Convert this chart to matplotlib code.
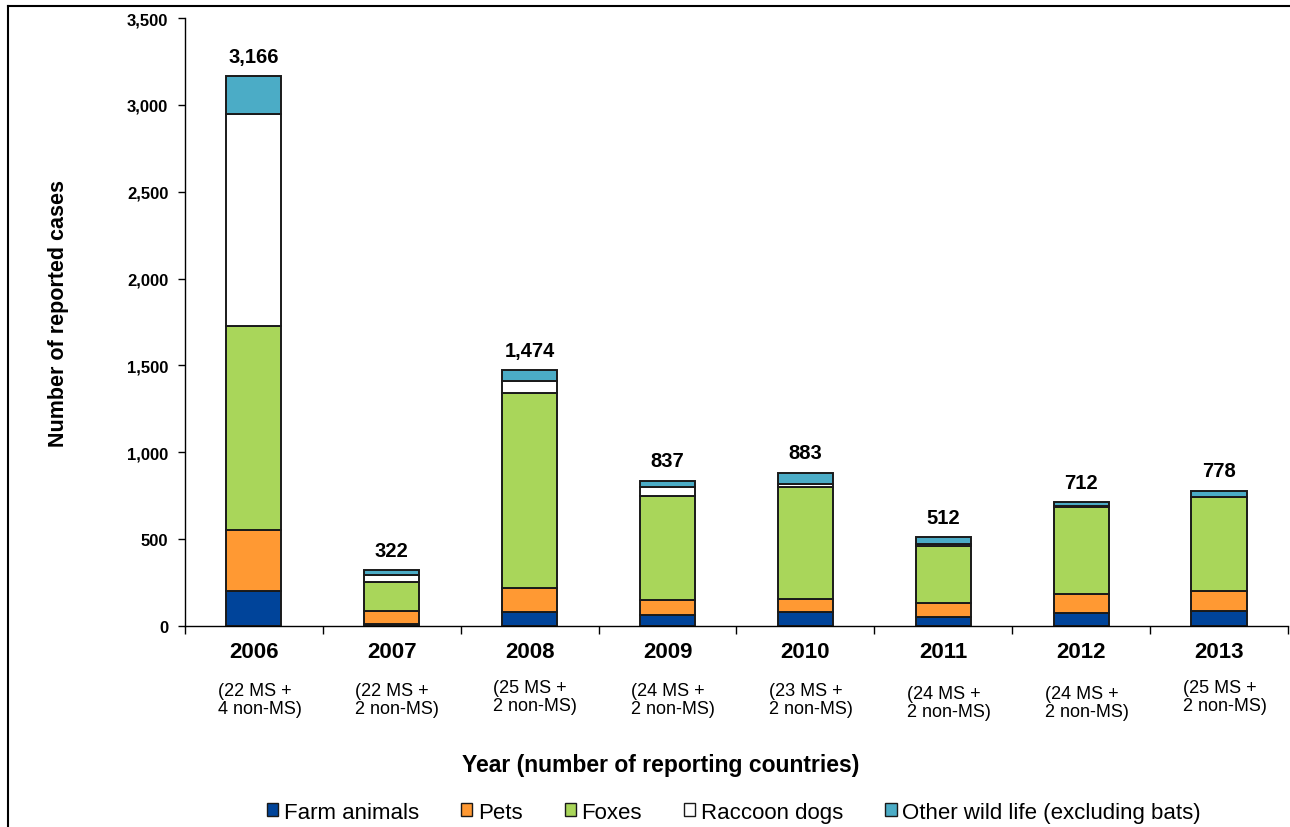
import matplotlib.pyplot as plt
from matplotlib.patches import Patch
from matplotlib.lines import Line2D

plt.rcParams['font.family'] = ['Liberation Sans', 'DejaVu Sans']

years = ['2006', '2007', '2008', '2009', '2010', '2011', '2012', '2013']
countries = ['(22 MS +\n4 non-MS)', '(22 MS +\n2 non-MS)', '(25 MS +\n2 non-MS)',
             '(24 MS +\n2 non-MS)', '(23 MS +\n2 non-MS)', '(24 MS +\n2 non-MS)',
             '(24 MS +\n2 non-MS)', '(25 MS +\n2 non-MS)']
totals = [3166, 322, 1474, 837, 883, 512, 712, 778]

farm = [200, 12, 79, 62, 78, 52, 73, 88]
pets = [353, 74, 138, 88, 79, 78, 109, 111]
foxes = [1174, 167, 1124, 598, 645, 330, 501, 541]
raccoon = [1221, 41, 69, 52, 14, 14, 7, 3]
other = [t - a - b - c - d for t, a, b, c, d in zip(totals, farm, pets, foxes, raccoon)]

series = [farm, pets, foxes, raccoon, other]
names = ['Farm animals', 'Pets', 'Foxes', 'Raccoon dogs', 'Other wild life (excluding bats)']
colors = ['#00449A', '#FF9933', '#A9D65A', '#FFFFFF', '#4BACC6']

fig = plt.figure(figsize=(12.9, 8.28), dpi=100)
ax = fig.add_axes([0.1434, 0.2428, 0.8550, 0.7342])

x = list(range(len(years)))
bottom = [0] * len(years)
for vals, col in zip(series, colors):
    ax.bar(x, vals, width=0.4, bottom=bottom, color=col, edgecolor='#1a1a1a', linewidth=1.4)
    bottom = [b + v for b, v in zip(bottom, vals)]

for xi, t in zip(x, totals):
    ax.text(xi, t + 60, f'{t:,}', ha='center', va='bottom', fontsize=14.5, fontweight='bold')

ax.set_xlim(-0.5, len(years) - 0.5)
ax.set_ylim(0, 3500)
ax.set_yticks(range(0, 3501, 500))
ax.set_yticklabels([f'{v:,}' for v in range(0, 3501, 500)], fontsize=12, fontweight='bold')
ax.tick_params(axis='y', direction='out', length=5, width=1, pad=7)

# tick marks at boundaries, labels at bar centres
ax.set_xticks([i - 0.5 for i in range(len(years) + 1)])
ax.set_xticklabels([])
ax.tick_params(axis='x', which='major', direction='out', length=6, width=1)
ax.set_xticks(x, minor=True)
ax.set_xticklabels(years, minor=True, fontsize=16, fontweight='bold')
ax.tick_params(axis='x', which='minor', length=0, pad=11)

sub_dy = [0, 0, -3, 0, 0, 3, 3, -3]
for xi, lab, dy in zip(x, countries, sub_dy):
    ax.annotate(lab, xy=(xi, 0), xycoords=('data', 'axes fraction'),
                xytext=(4, -40 - dy * 0.72), textcoords='offset points',
                ha='center', va='top', multialignment='left', fontsize=13, linespacing=1.1)

for s in ['top', 'right']:
    ax.spines[s].set_visible(False)
ax.spines['left'].set_linewidth(1)
ax.spines['bottom'].set_linewidth(1)

ax.set_ylabel('Number of reported cases', fontsize=15.5, fontweight='bold')
ax.yaxis.set_label_coords(-0.105, 0.515)
fig.text(0.512, 0.076, 'Year (number of reporting countries)', ha='center', va='center',
         fontsize=16.5, fontweight='bold')

handles = [Patch(facecolor=c, edgecolor='#1a1a1a', linewidth=1) for c in colors]
fig.legend(handles, names, loc='center', bbox_to_anchor=(0.569, 0.018), ncol=5, frameon=False,
           fontsize=16, handlelength=0.5, handleheight=0.5, handletextpad=0.25, columnspacing=1.9)

# outer frame (top and left edges)
fig.add_artist(Line2D([0.0062, 1.0], [0.9915, 0.9915], transform=fig.transFigure, color='black', lw=1.5))
fig.add_artist(Line2D([0.0062, 0.0062], [0.0, 0.9915], transform=fig.transFigure, color='black', lw=1.5))

plt.savefig('out.png', dpi=100)
